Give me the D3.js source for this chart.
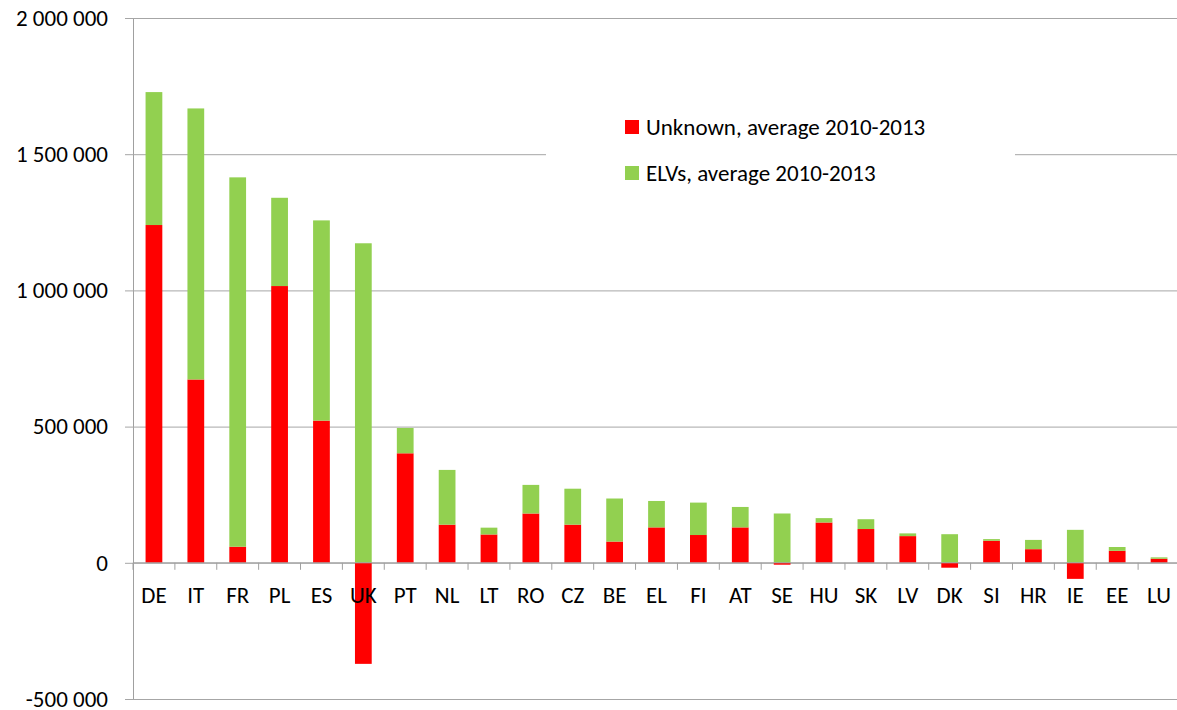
<!DOCTYPE html>
<html lang="en">
<head>
<meta charset="utf-8">
<title>Unknown and ELVs</title>
<script src="https://d3js.org/d3.v7.min.js"></script>
<style>
  body { margin: 0; background: #fff; }
  svg text { font-family: Calibri, Carlito, Lato, sans-serif; fill: #000; }
</style>
</head>
<body>
<div id="chart"></div>
<script>
"use strict"

// data
var countries = ["DE","IT","FR","PL","ES","UK","PT","NL","LT","RO","CZ","BE","EL","FI","AT","SE","HU","SK","LV","DK","SI","HR","IE","EE","LU"];
var unknown = [1240000, 673000, 59000, 1016000, 522000, -371000, 402000, 140000, 104000, 181000, 140000, 78000, 130000, 102000, 130000, -7000, 148000, 124000, 98000, -18000, 81000, 50000, -59000, 44000, 15000];
var elvs = [488000, 995000, 1356000, 324000, 735000, 1173000, 93000, 201000, 25000, 105000, 132000, 158000, 97000, 119000, 75000, 181000, 16000, 36000, 10000, 105000, 6000, 34000, 121000, 14000, 5000];
var yTicks = [-500000, 0, 500000, 1000000, 1500000, 2000000];
var seriesNames = ["Unknown, average 2010-2013", "ELVs, average 2010-2013"];
var colours = ["#ff0000", "#92d050"];

var width = 1177, height = 710;
var plotLeft = 133, plotRight = 1180, plotTop = 18, plotBottom = 699;
var fontSize = "23px";

var svg = d3.select("#chart").append("svg")
  .attr("width", width).attr("height", height);

var x = d3.scaleBand().domain(countries).range([plotLeft, plotRight]).paddingInner(0.6).paddingOuter(0.3);
var y = d3.scaleLinear().domain([-500000, 2000000]).range([plotBottom, plotTop]);

var fmt = d3.formatLocale({decimal: ".", thousands: " ", grouping: [3], currency: ["", ""], minus: "-"}).format(",d");

// gridlines + y axis
var yAxis = svg.append("g")
  .attr("transform", "translate(" + plotLeft + ",0)")
  .call(d3.axisLeft(y).tickValues(yTicks).tickFormat(fmt).tickSizeInner(-(plotRight - plotLeft)).tickSizeOuter(0).tickPadding(25));
yAxis.select(".domain").attr("stroke", "#a0a0a0");
yAxis.selectAll(".tick line").attr("stroke", "#a6a6a6").attr("x1", -8);
yAxis.selectAll(".tick text").style("font-size", fontSize);

// stacked bars
var rows = countries.map(function(c, i) { return {c: c, unknown: unknown[i], elvs: elvs[i]}; });
var stack = d3.stack().keys(["unknown", "elvs"]).offset(d3.stackOffsetDiverging)(rows);

svg.append("g").selectAll("g")
  .data(stack).enter().append("g")
    .attr("fill", function(d, i) { return colours[i]; })
  .selectAll("rect")
  .data(function(d) { return d; }).enter().append("rect")
    .attr("x", function(d) { return x(d.data.c); })
    .attr("width", x.bandwidth())
    .attr("y", function(d) { return y(Math.max(d[0], d[1])); })
    .attr("height", function(d) { return Math.abs(y(d[0]) - y(d[1])); });

// x axis at zero, ticks between categories
var gap = (x.step() - x.bandwidth()) / 2;
var edges = countries.map(function(c) { return x(c) - gap; });
edges.push(plotRight);
var xg = svg.append("g");
xg.append("line")
  .attr("x1", plotLeft).attr("x2", plotRight)
  .attr("y1", y(0)).attr("y2", y(0))
  .attr("stroke", "#a0a0a0");
xg.selectAll("line.tk").data(edges).enter().append("line")
  .attr("class", "tk")
  .attr("x1", function(d) { return d; }).attr("x2", function(d) { return d; })
  .attr("y1", y(0)).attr("y2", y(0) + 7)
  .attr("stroke", "#a0a0a0");
xg.selectAll("text").data(countries).enter().append("text")
  .attr("x", function(d) { return x(d) + x.bandwidth() / 2; })
  .attr("y", y(0) + 40)
  .attr("text-anchor", "middle")
  .style("font-size", fontSize)
  .text(function(d) { return d; });

// legend
var lg = svg.append("g");
lg.append("rect").attr("x", 546).attr("y", 100).attr("width", 469).attr("height", 100).attr("fill", "#fff");
var items = lg.selectAll("g").data(seriesNames).enter().append("g")
  .attr("transform", function(d, i) { return "translate(625," + (120 + i * 46) + ")"; });
items.append("rect").attr("width", 14).attr("height", 14)
  .attr("fill", function(d, i) { return colours[i]; });
items.append("text").attr("x", 21).attr("y", 15)
  .style("font-size", fontSize)
  .text(function(d) { return d; });
</script>
</body>
</html>
